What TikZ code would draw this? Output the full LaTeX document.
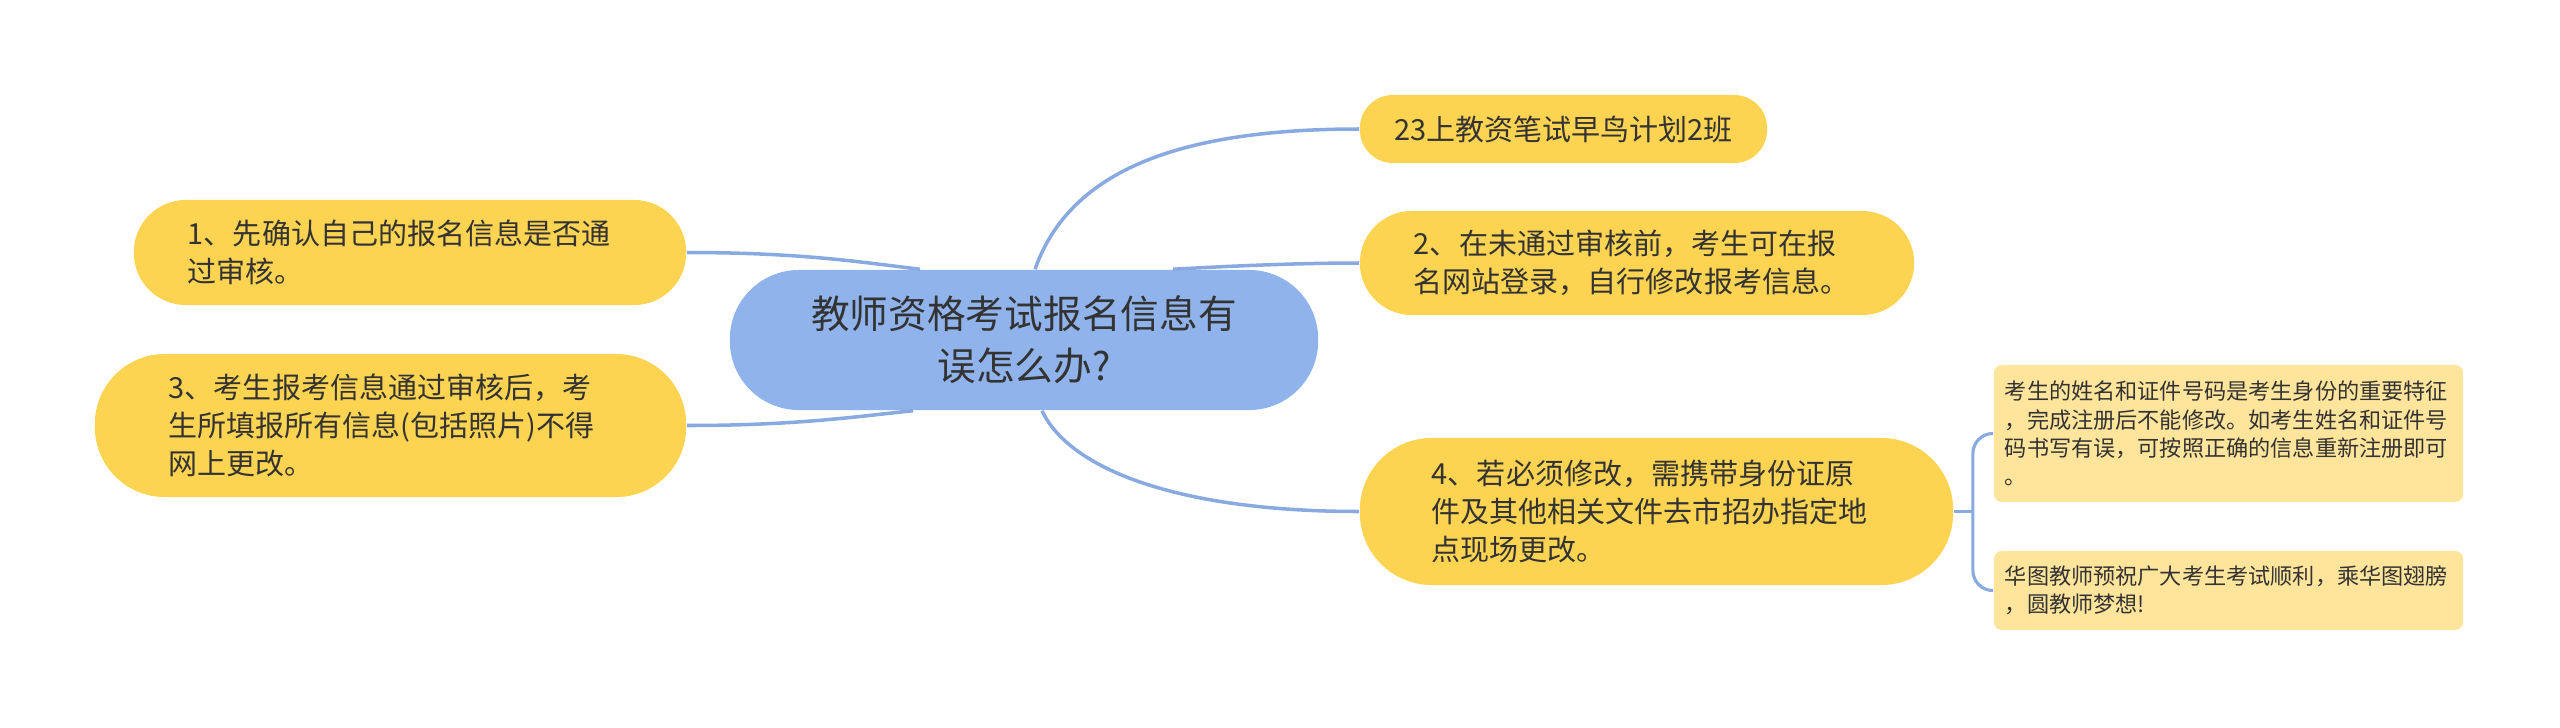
\documentclass[tikz,border=0pt]{standalone}
\usepackage{fontspec}
\newfontfamily\cjk{Noto Sans CJK SC}
\usepackage{xcolor}
\usepackage{tikz}
\usetikzlibrary{calc}
\definecolor{rootblue}{HTML}{8FB3EA}
\definecolor{linkblue}{HTML}{88AAE0}
\definecolor{topicyel}{HTML}{FDD352}
\definecolor{leafyel}{HTML}{FFE49C}
\definecolor{inkgray}{HTML}{333333}

\begin{document}
\begin{tikzpicture}[x=0.01cm,y=-0.01cm,
  root/.style={fill=rootblue,rounded corners=0.69cm,minimum width=5.88cm,minimum height=1.40cm,inner sep=0pt,align=center,text=inkgray,font=\cjk\fontsize{11pt}{14.7pt}\selectfont},
  topic/.style={fill=topicyel,inner sep=0pt,align=left,text=inkgray,font=\cjk\fontsize{8.25pt}{10.8pt}\selectfont},
  leaf/.style={fill=leafyel,rounded corners=0.08cm,inner sep=0pt,minimum width=4.69cm,text width=4.47cm,align=left,text=inkgray,font=\cjk\fontsize{6.3pt}{8pt}\selectfont},
  link/.style={draw=linkblue,line width=1pt}]
  \useasboundingbox (0,0) rectangle (2560,727);
  % centre
  \node[root] (root) at (1024,340) {教师资格考试报名信息有\\误怎么办?};
  % left side
  \node[topic,rounded corners=0.52cm,minimum width=5.52cm,minimum height=1.05cm,text width=4.44cm] (t1) at (410,252.5) {1、先确认自己的报名信息是否通\\过审核。};
  \node[topic,rounded corners=0.70cm,minimum width=5.91cm,minimum height=1.43cm,text width=4.43cm] (t3) at (390.5,425.5) {3、考生报考信息通过审核后，考\\生所填报所有信息(包括照片)不得\\网上更改。};
  % right side
  \node[topic,rounded corners=0.33cm,minimum width=4.07cm,minimum height=0.68cm,align=center] (t0) at (1563.5,129) {23上教资笔试早鸟计划2班};
  \node[topic,rounded corners=0.52cm,minimum width=5.54cm,minimum height=1.04cm,text width=4.46cm] (t2) at (1637,263) {2、在未通过审核前，考生可在报\\名网站登录，自行修改报考信息。};
  \node[topic,rounded corners=0.72cm,minimum width=5.93cm,minimum height=1.47cm,text width=4.49cm] (t4) at (1656.5,511.5) {4、若必须修改，需携带身份证原\\件及其他相关文件去市招办指定地\\点现场更改。};
  \node[leaf,minimum height=1.37cm] (l1) at (2228.5,433.5) {考生的姓名和证件号码是考生身份的重要特征\\，完成注册后不能修改。如考生姓名和证件号\\码书写有误，可按照正确的信息重新注册即可\\。};
  \node[leaf,minimum height=0.79cm] (l2) at (2228.5,590.5) {华图教师预祝广大考生考试顺利，乘华图翅膀\\，圆教师梦想!};
  % branches
  \draw[link] (t1.east) .. controls (800,252.5) and (860,262) .. ($(root.north)+(-104,0)$);
  \draw[link] (t3.east) .. controls (800,425.5) and (860,416) .. ($(root.south)+(-111,0)$);
  \draw[link] ($(root.north)+(11,0)$) .. controls (1070,170) and (1180,129) .. (t0.west);
  \draw[link] ($(root.north)+(149,0)$) .. controls (1230,266) and (1300,263) .. (t2.west);
  \draw[link] ($(root.south)+(18,0)$) .. controls (1070,470) and (1180,511.5) .. (t4.west);
  \draw[link,line width=0.9pt] (t4.east) -- ++(19,0) coordinate (fork);
  \draw[link,line width=0.9pt,rounded corners=0.2cm] (fork) |- (l1.west);
  \draw[link,line width=0.9pt,rounded corners=0.2cm] (fork) |- (l2.west);
\end{tikzpicture}
\end{document}
